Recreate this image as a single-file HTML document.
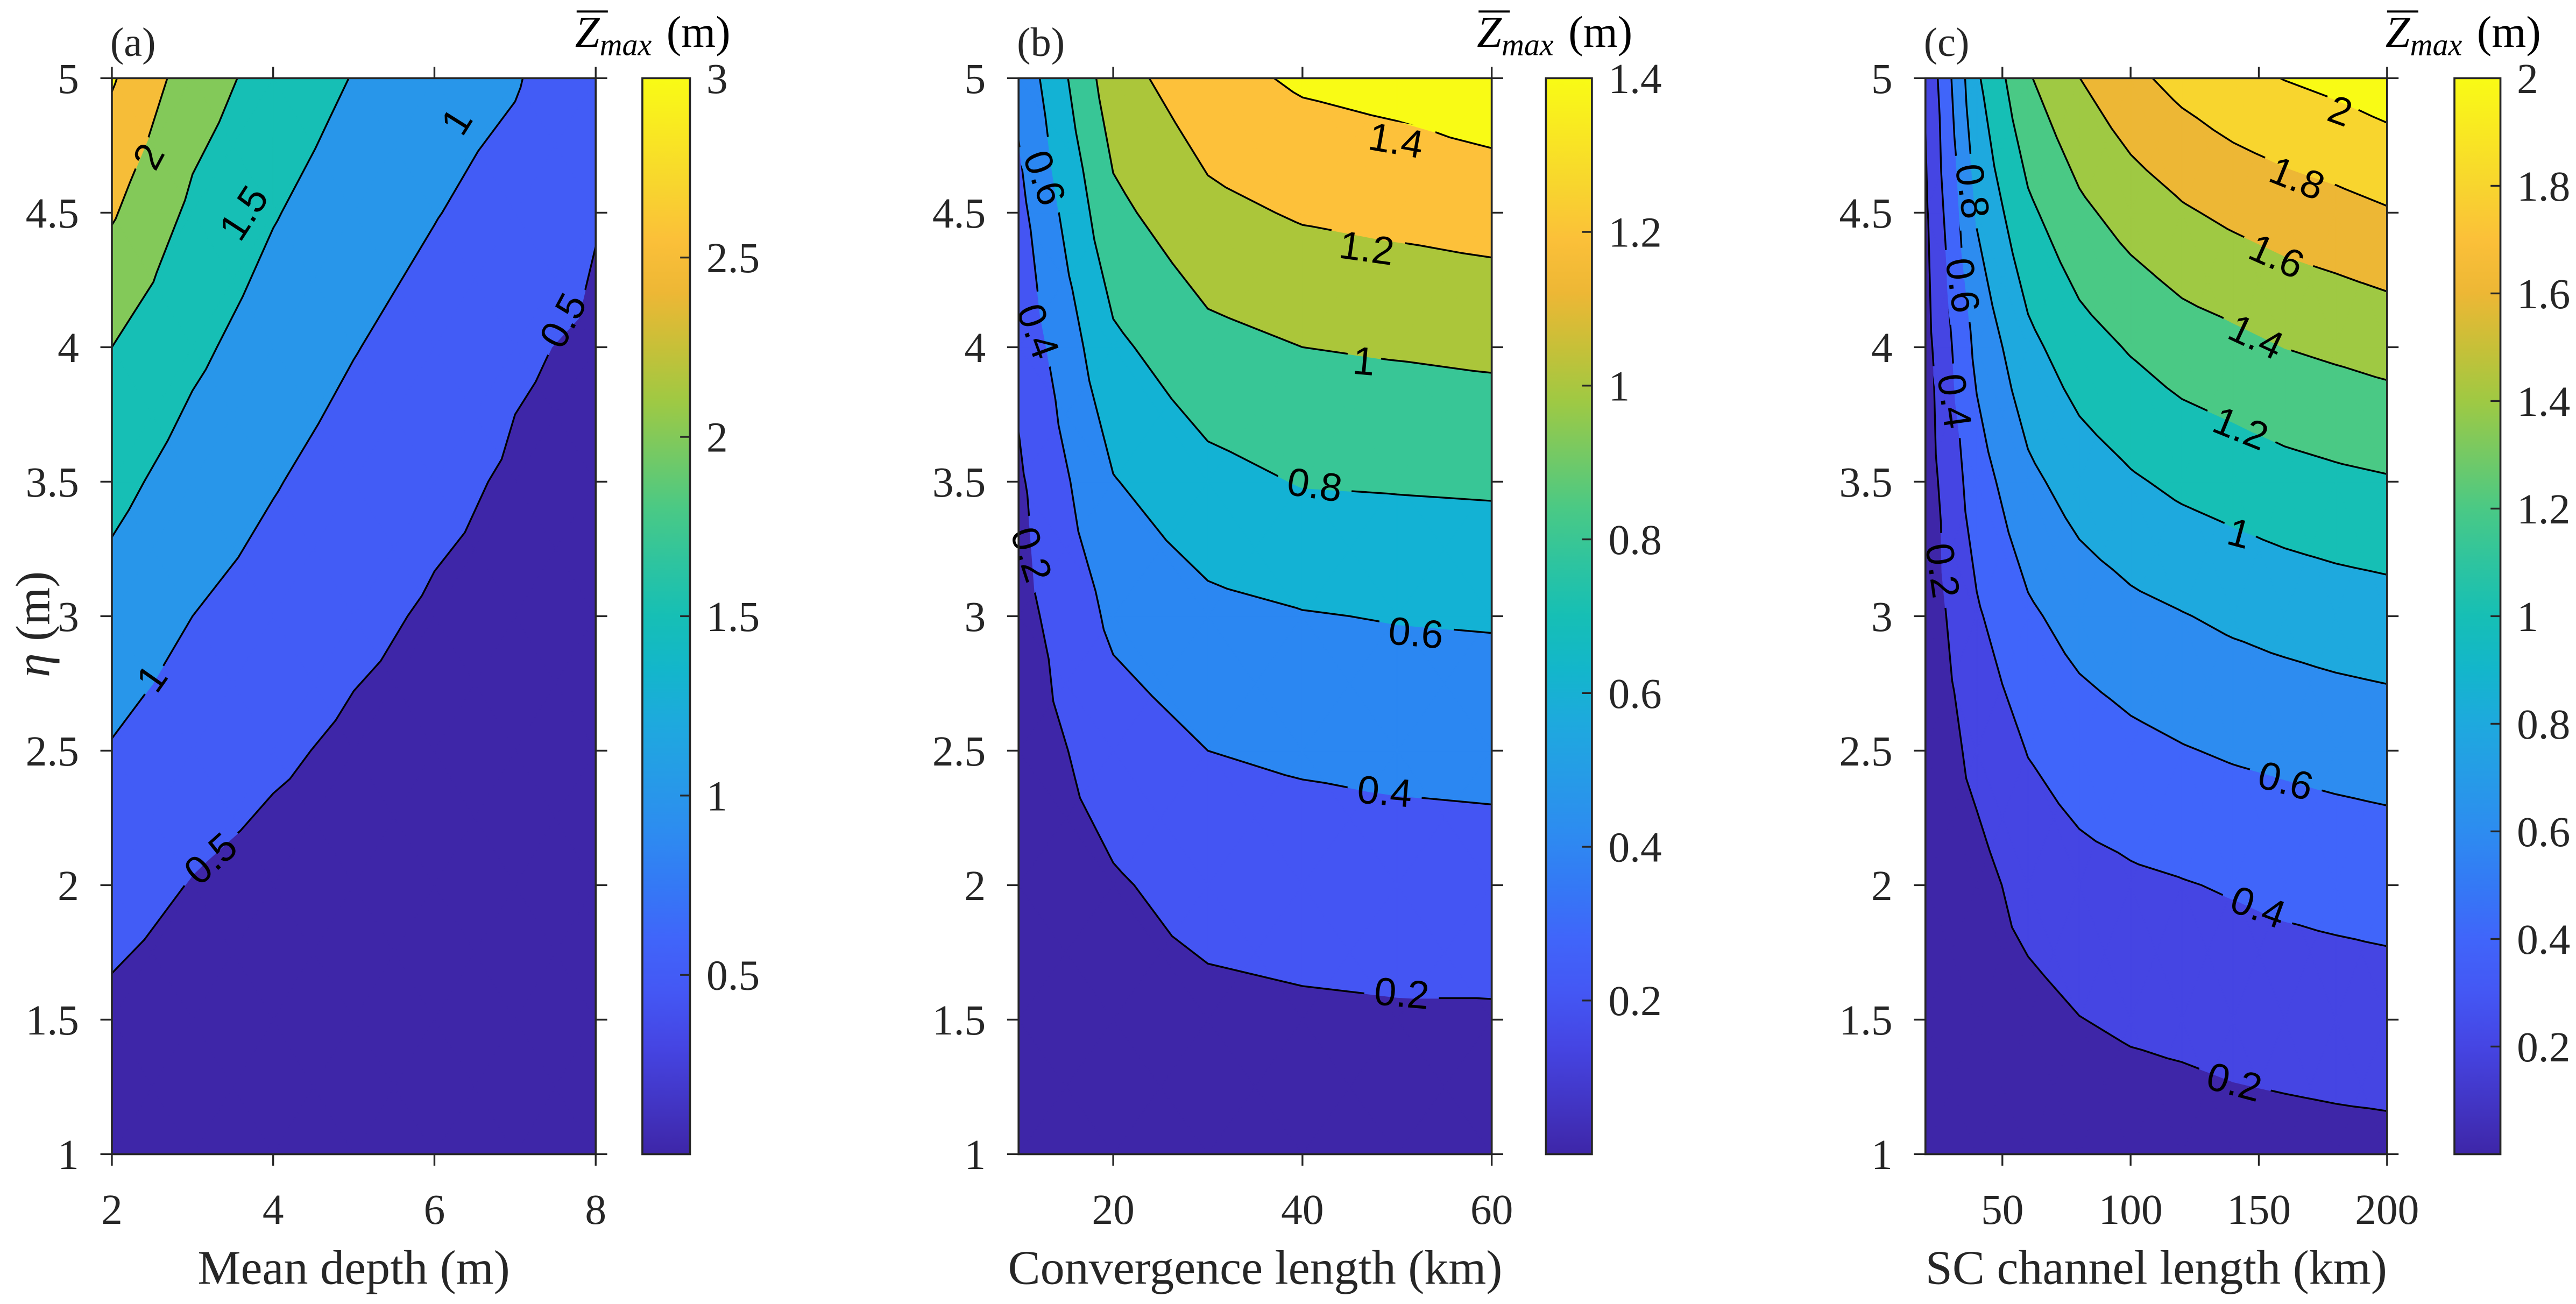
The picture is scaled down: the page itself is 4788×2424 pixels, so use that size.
<!DOCTYPE html>
<html><head><meta charset="utf-8"><style>
html,body{margin:0;padding:0;background:#fff;}
svg{display:block;}
text{font-family:"Liberation Serif",serif;fill:#262626;}
.cl{font-family:"Liberation Sans",sans-serif;fill:#000;}
</style></head><body>
<svg id="fig" xmlns="http://www.w3.org/2000/svg" width="4788" height="2424" viewBox="0 0 1568 793.8" preserveAspectRatio="none">
<rect x="0" y="0" width="1568" height="793.8" fill="#fff"/>
</svg>
<script>
// ---------- shared data ----------
const etaVals = [1,1.5,2,2.5,3,3.5,4,4.5,5];
const etaTicks = [1,1.5,2,2.5,3,3.5,4,4.5,5];
const etaTickLabels = ["1","1.5","2","2.5","3","3.5","4","4.5","5"];

// panel (a): mean depth
const aX = [2,3,4,5,6,7,8];
const aZ = [
 [0.12,0.08,0.06,0.05,0.04,0.03,0.015],
 [0.40,0.25,0.19,0.14,0.11,0.09,0.08],
 [0.69,0.48,0.35,0.27,0.21,0.17,0.14],
 [0.97,0.74,0.57,0.42,0.33,0.27,0.22],
 [1.30,1.00,0.80,0.60,0.45,0.37,0.30],
 [1.64,1.29,1.03,0.80,0.60,0.45,0.37],
 [2.00,1.60,1.27,1.02,0.80,0.55,0.44],
 [2.55,1.90,1.53,1.24,1.02,0.81,0.52],
 [3.05,2.25,1.80,1.48,1.20,1.04,0.62]
];
const aLevels = [0.5,1,1.5,2,2.5,3];
const aXTicks = [2,4,6,8];
const aXTickLabels = ["2","4","6","8"];
const aCTicks = [0.5,1,1.5,2,2.5,3];
const aCTickLabels = ["0.5","1","1.5","2","2.5","3"];
const aLabelText = ["2","1.5","1","0.5","1","0.5"];
const aLabelX = [2.45,3.63,6.27,7.59,2.49,3.22];
const aLabelY = [4.71,4.50,4.84,4.10,2.77,2.10];
const aLabelRot = [-62,-57,-58,-62,-55,-42];

// panel (b): convergence length
const bX = [10,20,30,40,50,60];
const bZ = [
 [0.00,0.05,0.07,0.08,0.085,0.09],
 [0.04,0.11,0.15,0.17,0.18,0.18],
 [0.06,0.18,0.27,0.29,0.30,0.31],
 [0.09,0.30,0.40,0.43,0.45,0.46],
 [0.13,0.44,0.55,0.59,0.61,0.62],
 [0.17,0.59,0.74,0.81,0.82,0.83],
 [0.25,0.76,0.94,1.00,1.02,1.04],
 [0.34,0.95,1.15,1.22,1.25,1.28],
 [0.45,1.12,1.33,1.43,1.47,1.53]
];
const bLevels = [0.2,0.4,0.6,0.8,1.0,1.2,1.4];
const bXTicks = [20,40,60];
const bXTickLabels = ["20","40","60"];
const bCTicks = [0.2,0.4,0.6,0.8,1,1.2,1.4];
const bCTickLabels = ["0.2","0.4","0.6","0.8","1","1.2","1.4"];
const bLabelText = ["0.6","0.4","0.2","1.4","1.2","1","0.8","0.6","0.4","0.2"];
const bLabelX = [12.8,12.1,11.4,49.9,46.8,46.5,41.3,52.0,48.7,50.5];
const bLabelY = [4.63,4.06,3.23,4.77,4.37,3.95,3.49,2.94,2.35,1.60];
const bLabelRot = [70,70,72,10,8,5,8,5,5,5];

// panel (c): SC channel length
const cX = [20,40,60,80,100,120,140,160,180,200];
const cZ = [
 [0.02,0.04,0.05,0.06,0.089,0.10,0.122,0.132,0.143,0.15],
 [0.03,0.09,0.137,0.196,0.228,0.246,0.267,0.283,0.295,0.306],
 [0.045,0.132,0.271,0.334,0.367,0.39,0.416,0.443,0.462,0.478],
 [0.06,0.254,0.407,0.492,0.548,0.589,0.621,0.643,0.666,0.684],
 [0.08,0.376,0.567,0.68,0.747,0.791,0.835,0.869,0.897,0.918],
 [0.10,0.507,0.753,0.89,0.977,1.042,1.084,1.128,1.16,1.184],
 [0.13,0.65,0.948,1.115,1.217,1.299,1.347,1.402,1.436,1.47],
 [0.17,0.82,1.159,1.356,1.483,1.576,1.642,1.694,1.735,1.784],
 [0.22,0.97,1.38,1.598,1.753,1.863,1.945,2.005,2.05,2.107]
];
const cLevels = [0.2,0.4,0.6,0.8,1.0,1.2,1.4,1.6,1.8,2.0];
const cXTicks = [50,100,150,200];
const cXTickLabels = ["50","100","150","200"];
const cCTicks = [0.2,0.4,0.6,0.8,1,1.2,1.4,1.6,1.8,2];
const cCTickLabels = ["0.2","0.4","0.6","0.8","1","1.2","1.4","1.6","1.8","2"];
const cLabelText = ["0.8","0.6","0.4","0.2","2","1.8","1.6","1.4","1.2","1","0.6","0.4","0.2"];
const cLabelX = [38.5,34.7,31.5,26.9,181.8,165,157,149,143,142.4,160.5,149.8,140.5];
const cLabelY = [4.58,4.23,3.80,3.17,4.88,4.63,4.34,4.04,3.70,3.31,2.39,1.92,1.27];
const cLabelRot = [82,82,82,82,20,22,24,25,22,15,15,20,15];

// ---------- rendering ----------
const NS = "http://www.w3.org/2000/svg";
const svg = document.getElementById('fig');
const PAR = [[0,62,38,168],[0.1,69,69,227],[0.143,68,85,243],[0.2,64,101,250],[0.286,43,135,242],[0.3,45,140,240],[0.4,30,169,222],[0.43,18,178,212],[0.5,22,191,181],[0.571,56,198,150],[0.6,74,201,133],[0.7,159,201,67],[0.714,171,198,58],[0.8,237,183,53],[0.857,253,193,58],[0.9,248,213,46],[1,249,251,21]];
function parula(t){
  t=Math.max(0,Math.min(1,t));
  for(let i=1;i<PAR.length;i++){
    if(t<=PAR[i][0]){
      const a=PAR[i-1],b=PAR[i],f=(t-a[0])/(b[0]-a[0]);
      return 'rgb('+[1,2,3].map(k=>Math.round(a[k]+f*(b[k]-a[k]))).join(',')+')';
    }
  }
  return 'rgb(249,251,21)';
}
function el(tag,attrs,parent){
  const e=document.createElementNS(NS,tag);
  for(const k in attrs) e.setAttribute(k,attrs[k]);
  (parent||svg).appendChild(e);
  return e;
}
function clip(poly,L,above){
  const out=[];
  for(let i=0;i<poly.length;i++){
    const a=poly[i],b=poly[(i+1)%poly.length];
    const ia=above?a.z>=L:a.z<=L, ib=above?b.z>=L:b.z<=L;
    if(ia) out.push(a);
    if(ia!==ib){
      const t=(L-a.z)/(b.z-a.z);
      out.push({x:a.x+t*(b.x-a.x),y:a.y+t*(b.y-a.y),z:L});
    }
  }
  return out;
}
const T=47.6,B=702.6;
function drawPanel(p){
  const g=el('g',{});
  
  
  const sx=v=>p.L+(v-p.xmin)/(p.xmax-p.xmin)*(p.R-p.L);
  const sy=v=>B-(v-1)/4*(B-T);
  const cmin=p.clim[0],cmax=p.clim[1];
  const tris=[];
  for(let j=0;j<etaVals.length-1;j++){
    for(let i=0;i<p.xs.length-1;i++){
      const P=(ii,jj)=>({x:sx(p.xs[ii]),y:sy(etaVals[jj]),z:p.Z[jj][ii]});
      const a=P(i,j),b=P(i+1,j),c=P(i+1,j+1),d=P(i,j+1);
      const m={x:(a.x+c.x)/2,y:(a.y+c.y)/2,z:(a.z+b.z+c.z+d.z)/4};
      tris.push([a,b,m],[b,c,m],[c,d,m],[d,a,m]);
    }
  }
  const fills=el('g',{},g);
  
  
  const lv=p.levels;
  for(let k=0;k<=lv.length;k++){
    const lo=k===0?-Infinity:lv[k-1]+1e-7, hi=k===lv.length?Infinity:lv[k]+1e-7;
    let d='';
    tris.forEach(tr=>{
      let poly=tr;
      if(lo>-Infinity) poly=clip(poly,lo,true);
      if(poly.length>=3 && hi<Infinity) poly=clip(poly,hi,false);
      if(poly.length>=3) d+='M'+poly.map(q=>q.x.toFixed(2)+' '+q.y.toFixed(2)).join('L')+'Z';
    });
    const col=parula(((k===0?cmin:lv[k-1])-cmin)/(cmax-cmin));
    const path=el('path',{d:d,fill:col,stroke:col,'stroke-width':0.6,'stroke-linejoin':'round'},fills);
    
    
  }
  const defs=el('defs',{},g);
  const mask=el('mask',{id:p.name+'-mask',maskUnits:'userSpaceOnUse',x:0,y:0,width:1568,height:794},defs);
  el('rect',{x:0,y:0,width:1568,height:794,fill:'#fff'},mask);
  p.lt.forEach((t,i)=>{
    const x=sx(p.lx[i]),y=sy(p.ly[i]),w=t.length*12.5+8;
    el('rect',{x:x-w/2,y:y-11,width:w,height:22,fill:'#000',transform:'rotate('+p.lr[i]+' '+x+' '+y+')'},mask);
  });
  const lines=el('g',{mask:'url(#'+p.name+'-mask)'},g);
  
  
  lv.forEach((L0)=>{
    const L=L0+1e-7;
    let d='';
    tris.forEach(tr=>{
      const pts=[];
      for(let e=0;e<3;e++){
        const a=tr[e],b=tr[(e+1)%3];
        if((a.z-L)*(b.z-L)<0){
          const t=(L-a.z)/(b.z-a.z);
          pts.push([a.x+t*(b.x-a.x),a.y+t*(b.y-a.y)]);
        }
      }
      if(pts.length===2) d+='M'+pts[0][0].toFixed(2)+' '+pts[0][1].toFixed(2)+'L'+pts[1][0].toFixed(2)+' '+pts[1][1].toFixed(2);
    });
    const path=el('path',{d:d,fill:'none',stroke:'#000','stroke-width':1.1,'stroke-linecap':'round'},lines);
    
    
  });
  p.lt.forEach((t,i)=>{
    const x=sx(p.lx[i]),y=sy(p.ly[i]);
    const tx=el('text',{class:'cl',x:x,y:y+8.5,'text-anchor':'middle','font-size':24,transform:'rotate('+p.lr[i]+' '+x+' '+y+')'},g);
    tx.textContent=t;
    
    
  });
  const box=el('rect',{x:p.L,y:T,width:p.R-p.L,height:B-T,fill:'none',stroke:'#262626','stroke-width':1.2},g);
  
  
  let tk='';
  etaTicks.forEach((v,i)=>{
    const y=sy(v);
    tk+='M'+(p.L-7)+' '+y+'H'+p.L+'M'+p.R+' '+y+'H'+(p.R+7);
    const t=el('text',{x:p.L-20,y:y+9,'text-anchor':'end','font-size':26},g);
    t.textContent=etaTickLabels[i];
    
    
  });
  p.xt.forEach((v,i)=>{
    const x=sx(v);
    tk+='M'+x+' '+(B)+'V'+(B+7)+'M'+x+' '+T+'V'+(T-7);
    const t=el('text',{x:x,y:745,'text-anchor':'middle','font-size':26},g);
    t.textContent=p.xtl[i];
    
    
  });
  const tp=el('path',{d:tk,stroke:'#262626','stroke-width':1.1,fill:'none'},g);
  
  
  const xl=el('text',{x:(p.L+p.R)/2,y:781.5,'text-anchor':'middle','font-size':29.5},g);
  xl.textContent=p.xlabel;
  
  
  const pl=el('text',{x:p.L-1,y:34,'font-size':25},g);
  pl.textContent=p.letter;
  
  
  const cg=el('g',{},g);
  
  
  const gid=p.name+'-grad';
  const lg=el('linearGradient',{id:gid,x1:0,y1:1,x2:0,y2:0},defs);
  for(let s=0;s<=20;s++) el('stop',{offset:s/20,'stop-color':parula(s/20)},lg);
  el('rect',{x:p.cbL,y:T,width:p.cbR-p.cbL,height:B-T,fill:'url(#'+gid+')',stroke:'#262626','stroke-width':1.2},cg);
  const cy=v=>B-(v-cmin)/(cmax-cmin)*(B-T);
  let ct='';
  p.ct.forEach((v,i)=>{
    const y=cy(v);
    ct+='M'+(p.cbR-6)+' '+y+'H'+p.cbR;
    const t=el('text',{x:p.cbR+10,y:y+9,'font-size':26},cg);
    t.textContent=p.ctl[i];
    
    
  });
  el('path',{d:ct,stroke:'#262626','stroke-width':1.1},cg);
  const zx=p.cbR-70;
  el('line',{x1:zx+1,x2:zx+20,y1:7,y2:7,stroke:'#000','stroke-width':1.3},cg);
  const ttl=el('text',{x:zx,y:28.5,'font-size':27},cg);
  
  
  ttl.innerHTML='<tspan font-style="italic" fill="#000">Z</tspan><tspan font-style="italic" font-size="19" dy="5" fill="#000">max</tspan><tspan dy="-5" fill="#000" dx="9">(m)</tspan>';
}
drawPanel({name:'panel-a',letter:'(a)',L:68.1,R:362.6,xmin:2,xmax:8,xs:aX,Z:aZ,levels:aLevels,clim:[0,3],xt:aXTicks,xtl:aXTickLabels,ct:aCTicks,ctl:aCTickLabels,cbL:391,cbR:420,xlabel:'Mean depth (m)',lt:aLabelText,lx:aLabelX,ly:aLabelY,lr:aLabelRot});
drawPanel({name:'panel-b',letter:'(b)',L:620,R:908,xmin:10,xmax:60,xs:bX,Z:bZ,levels:bLevels,clim:[0,1.4],xt:bXTicks,xtl:bXTickLabels,ct:bCTicks,ctl:bCTickLabels,cbL:941,cbR:969,xlabel:'Convergence length (km)',lt:bLabelText,lx:bLabelX,ly:bLabelY,lr:bLabelRot});
drawPanel({name:'panel-c',letter:'(c)',L:1172,R:1453,xmin:20,xmax:200,xs:cX,Z:cZ,levels:cLevels,clim:[0,2],xt:cXTicks,xtl:cXTickLabels,ct:cCTicks,ctl:cCTickLabels,cbL:1494,cbR:1522,xlabel:'SC channel length (km)',lt:cLabelText,lx:cLabelX,ly:cLabelY,lr:cLabelRot});
const yl=el('text',{x:0,y:0,'font-size':29.5,'text-anchor':'middle',transform:'translate(30 380) rotate(-90)'});
yl.innerHTML='<tspan font-style="italic">η</tspan> (m)';


</script>
</body></html>
